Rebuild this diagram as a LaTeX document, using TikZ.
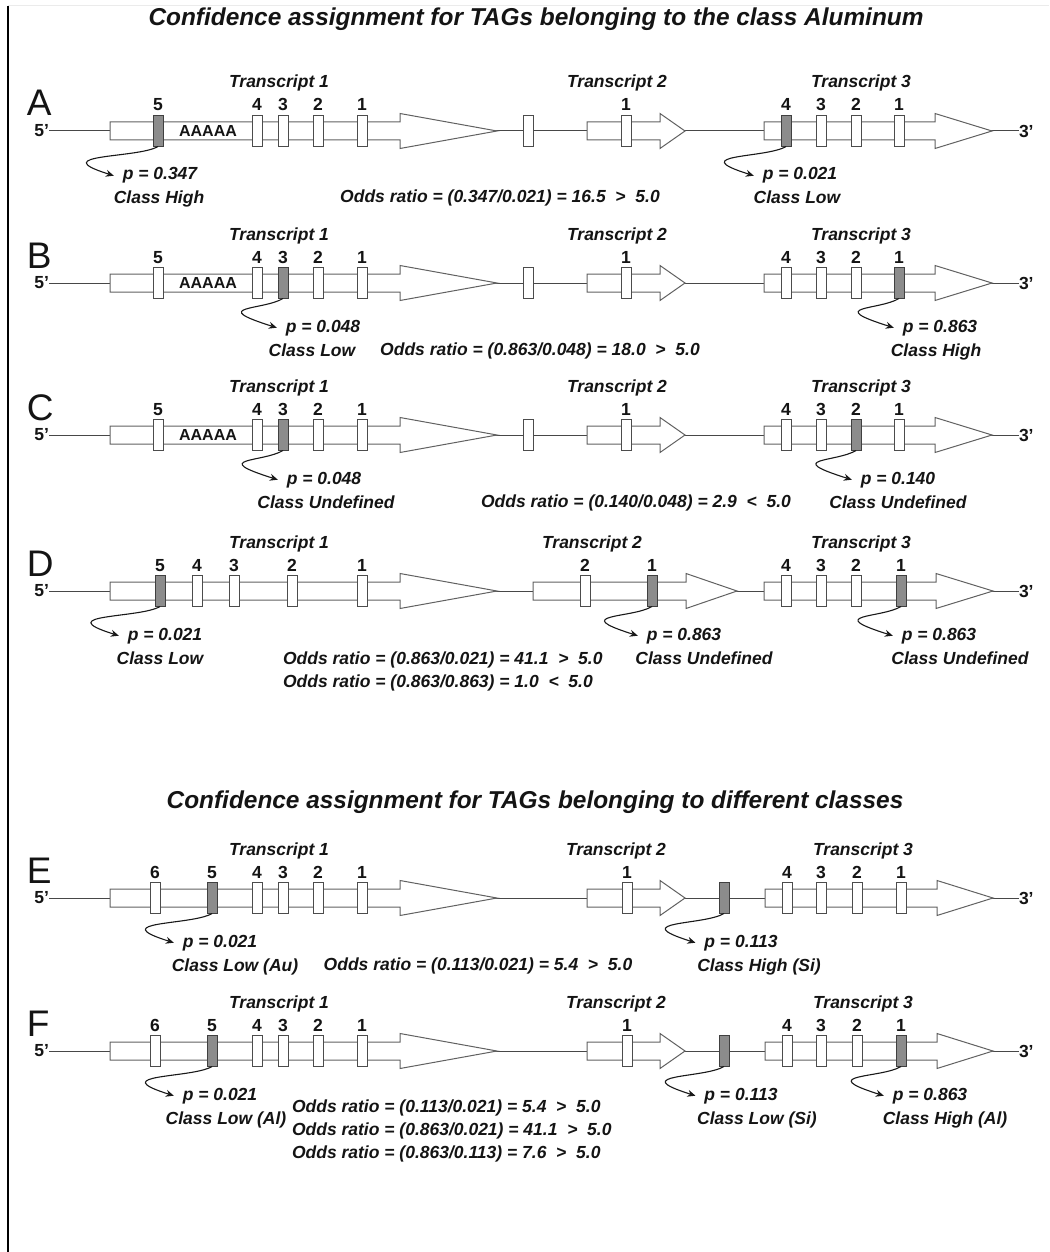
\documentclass[tikz,border=0pt]{standalone}
\usepackage{fontspec}
\setmainfont{Liberation Sans}
\usetikzlibrary{arrows.meta}
\newcommand\txshape[3]{\path[tshape] (#1,9) -- (#2,9) -- (#2,17.5) -- (#3,0) -- (#2,-17.5) -- (#2,-9) -- (#1,-9) -- cycle;}
\newcommand\mkn[4]{\node[#1] (#2) at (#3,0) {}; \node[num] (#2n) at (#3,20) {#4};}
\newcommand\rowframe[1]{%
  \node[rowlet] (#1let) at (27,15) {#1};
  \node[endlab, anchor=east] (#1five) at (49,0) {5’};
  \node[endlab, anchor=west] (#1three) at (1019,0) {3’};
  \draw[baseln] (#1five.east) -- (#1three.west);
}
\begin{document}
\begin{tikzpicture}[x=1pt,y=1pt,
  every node/.style={inner sep=0pt, outer sep=0pt, text=black!92},
  lab/.style={font=\fontsize{17.5}{21}\selectfont\bfseries\itshape, anchor=base},
  labl/.style={lab, anchor=base west},
  num/.style={font=\fontsize{17.5}{21}\selectfont\bfseries, anchor=base},
  polyA/.style={font=\fontsize{16}{19}\selectfont\bfseries},
  ttl/.style={font=\fontsize{24.4}{29}\selectfont\bfseries\itshape, anchor=base},
  rowlet/.style={font=\fontsize{37}{40}\selectfont, anchor=base west},
  endlab/.style={font=\fontsize{17.5}{21}\selectfont\bfseries},
  tshape/.style={draw=black!62, fill=white, line width=1pt, line join=miter},
  baseln/.style={draw=black!72, line width=1pt},
  mk/.style={draw=black!70, fill=white, line width=1pt, minimum width=10pt, minimum height=31pt},
  mkg/.style={mk, fill=black!45, draw=black!75},
  tagarr/.style={draw=black!90, line width=1.1pt, -{Stealth[length=8pt,width=7pt]}},
  hook/.style={tagarr},
]
\useasboundingbox (0,0) rectangle (1049,-1252);
\fill[white] (0,0) rectangle (1049,-1252);
\draw[black!8, line width=1pt] (8,-6) -- (1049,-6);
\draw[black, line width=2pt] (8,-6) -- (8,-1252);

\node[ttl] (title1) at (536,-26) {Confidence assignment for TAGs belonging to the class Aluminum};
\node[ttl] (title2) at (535,-808) {Confidence assignment for TAGs belonging to different classes};

% ---------------- Row A
\begin{scope}[yshift=-131pt]
\rowframe{A}
\txshape{110}{400}{497}
\txshape{587}{660}{685}
\txshape{764}{935}{992}
\mkn{mkg}{A5}{158}{5} \mkn{mk}{A4}{257}{4} \mkn{mk}{A3}{283}{3} \mkn{mk}{A2}{318}{2} \mkn{mk}{A1}{362}{1}
\node[polyA] (Apoly) at (208,0) {AAAAA};
\node[mk] (Ax) at (528,0) {};
\mkn{mk}{A21}{626}{1}
\mkn{mkg}{A34}{786}{4} \mkn{mk}{A33}{821}{3} \mkn{mk}{A32}{856}{2} \mkn{mk}{A31}{899}{1}
\node[lab] (AT1) at (279,43) {Transcript 1};
\node[lab] (AT2) at (617,43) {Transcript 2};
\node[lab] (AT3) at (861,43) {Transcript 3};
\node[lab] (Ap1) at (160,-49) {p = 0.347};
\node[lab] (Ac1) at (159,-73) {Class High};
\node[lab] (Ap3) at (800,-49) {p = 0.021};
\node[lab] (Ac3) at (797,-73) {Class Low};
\node[lab] (Aodds) at (500,-72) {Odds ratio = (0.347/0.021) = 16.5\ \ >\ \ 5.0};
\draw[hook] (A5.south) .. controls +(-20,-12) and +(-70,22) .. ([xshift=-9pt]Ap1.west);
\draw[hook] (A34.south) .. controls +(-20,-12) and +(-70,22) .. ([xshift=-9pt]Ap3.west);
\end{scope}

% ---------------- Row B
\begin{scope}[yshift=-283pt]
\rowframe{B}
\txshape{110}{400}{497}
\txshape{587}{660}{685}
\txshape{764}{935}{992}
\mkn{mk}{B5}{158}{5} \mkn{mk}{B4}{257}{4} \mkn{mkg}{B3}{283}{3} \mkn{mk}{B2}{318}{2} \mkn{mk}{B1}{362}{1}
\node[polyA] (Bpoly) at (208,0) {AAAAA};
\node[mk] (Bx) at (528,0) {};
\mkn{mk}{B21}{626}{1}
\mkn{mk}{B34}{786}{4} \mkn{mk}{B33}{821}{3} \mkn{mk}{B32}{856}{2} \mkn{mkg}{B31}{899}{1}
\node[lab] (BT1) at (279,43) {Transcript 1};
\node[lab] (BT2) at (617,43) {Transcript 2};
\node[lab] (BT3) at (861,43) {Transcript 3};
\node[lab] (Bp1) at (323,-49) {p = 0.048};
\node[lab] (Bc1) at (312,-73) {Class Low};
\node[lab] (Bp3) at (940,-49) {p = 0.863};
\node[lab] (Bc3) at (936,-73) {Class High};
\node[lab] (Bodds) at (540,-72) {Odds ratio = (0.863/0.048) = 18.0\ \ >\ \ 5.0};
\draw[hook] (B3.south) .. controls +(-20,-12) and +(-70,22) .. ([xshift=-9pt]Bp1.west);
\draw[hook] (B31.south) .. controls +(-20,-12) and +(-70,22) .. ([xshift=-9pt]Bp3.west);
\end{scope}

% ---------------- Row C
\begin{scope}[yshift=-435pt]
\rowframe{C}
\txshape{110}{400}{497}
\txshape{587}{660}{685}
\txshape{764}{935}{992}
\mkn{mk}{C5}{158}{5} \mkn{mk}{C4}{257}{4} \mkn{mkg}{C3}{283}{3} \mkn{mk}{C2}{318}{2} \mkn{mk}{C1}{362}{1}
\node[polyA] (Cpoly) at (208,0) {AAAAA};
\node[mk] (Cx) at (528,0) {};
\mkn{mk}{C21}{626}{1}
\mkn{mk}{C34}{786}{4} \mkn{mk}{C33}{821}{3} \mkn{mkg}{C32}{856}{2} \mkn{mk}{C31}{899}{1}
\node[lab] (CT1) at (279,43) {Transcript 1};
\node[lab] (CT2) at (617,43) {Transcript 2};
\node[lab] (CT3) at (861,43) {Transcript 3};
\node[lab] (Cp1) at (324,-49) {p = 0.048};
\node[lab] (Cc1) at (326,-73) {Class Undefined};
\node[lab] (Cp3) at (898,-49) {p = 0.140};
\node[lab] (Cc3) at (898,-73) {Class Undefined};
\node[lab] (Codds) at (636,-72) {Odds ratio = (0.140/0.048) = 2.9\ \ <\ \ 5.0};
\draw[hook] (C3.south) .. controls +(-20,-12) and +(-70,22) .. ([xshift=-9pt]Cp1.west);
\draw[hook] (C32.south) .. controls +(-20,-12) and +(-70,22) .. ([xshift=-9pt]Cp3.west);
\end{scope}

% ---------------- Row D
\begin{scope}[yshift=-591pt]
\rowframe{D}
\txshape{110}{400}{497}
\txshape{533}{686}{737}
\txshape{764}{936}{993}
\mkn{mkg}{D5}{160}{5} \mkn{mk}{D4}{197}{4} \mkn{mk}{D3}{234}{3} \mkn{mk}{D2}{292}{2} \mkn{mk}{D1}{362}{1}
\mkn{mk}{D22}{585}{2} \mkn{mkg}{D21}{652}{1}
\mkn{mk}{D34}{786}{4} \mkn{mk}{D33}{821}{3} \mkn{mk}{D32}{856}{2} \mkn{mkg}{D31}{901}{1}
\node[lab] (DT1) at (279,43) {Transcript 1};
\node[lab] (DT2) at (592,43) {Transcript 2};
\node[lab] (DT3) at (861,43) {Transcript 3};
\node[lab] (Dp1) at (165,-49) {p = 0.021};
\node[lab] (Dc1) at (160,-73) {Class Low};
\node[lab] (Dp2) at (684,-49) {p = 0.863};
\node[lab] (Dc2) at (704,-73) {Class Undefined};
\node[lab] (Dp3) at (939,-49) {p = 0.863};
\node[lab] (Dc3) at (960,-73) {Class Undefined};
\node[labl] (Dodds1) at (283,-73) {Odds ratio = (0.863/0.021) = 41.1\ \ >\ \ 5.0};
\node[labl] (Dodds2) at (283,-96) {Odds ratio = (0.863/0.863) = 1.0\ \ <\ \ 5.0};
\draw[hook] (D5.south) .. controls +(-20,-12) and +(-70,22) .. ([xshift=-9pt]Dp1.west);
\draw[hook] (D21.south) .. controls +(-20,-12) and +(-70,22) .. ([xshift=-9pt]Dp2.west);
\draw[hook] (D31.south) .. controls +(-20,-12) and +(-70,22) .. ([xshift=-9pt]Dp3.west);
\end{scope}

% ---------------- Row E
\begin{scope}[yshift=-898pt]
\rowframe{E}
\txshape{110}{400}{497}
\txshape{587}{660}{685}
\txshape{765}{937}{993}
\mkn{mk}{E6}{155}{6} \mkn{mkg}{E5}{212}{5} \mkn{mk}{E4}{257}{4} \mkn{mk}{E3}{283}{3} \mkn{mk}{E2}{318}{2} \mkn{mk}{E1}{362}{1}
\mkn{mk}{E21}{627}{1}
\node[mkg] (Ex) at (724,0) {};
\mkn{mk}{E34}{787}{4} \mkn{mk}{E33}{821}{3} \mkn{mk}{E32}{857}{2} \mkn{mk}{E31}{901}{1}
\node[lab] (ET1) at (279,43) {Transcript 1};
\node[lab] (ET2) at (616,43) {Transcript 2};
\node[lab] (ET3) at (863,43) {Transcript 3};
\node[lab] (Ep1) at (220,-49) {p = 0.021};
\node[lab] (Ec1) at (235,-73) {Class Low (Au)};
\node[lab] (Ep2) at (741,-49) {p = 0.113};
\node[lab] (Ec2) at (759,-73) {Class High (Si)};
\node[lab] (Eodds) at (478,-72) {Odds ratio = (0.113/0.021) = 5.4\ \ >\ \ 5.0};
\draw[hook] (E5.south) .. controls +(-20,-12) and +(-70,22) .. ([xshift=-9pt]Ep1.west);
\draw[hook] (Ex.south) .. controls +(-20,-12) and +(-70,22) .. ([xshift=-9pt]Ep2.west);
\end{scope}

% ---------------- Row F
\begin{scope}[yshift=-1051pt]
\rowframe{F}
\txshape{110}{400}{497}
\txshape{587}{660}{685}
\txshape{765}{937}{993}
\mkn{mk}{F6}{155}{6} \mkn{mkg}{F5}{212}{5} \mkn{mk}{F4}{257}{4} \mkn{mk}{F3}{283}{3} \mkn{mk}{F2}{318}{2} \mkn{mk}{F1}{362}{1}
\mkn{mk}{F21}{627}{1}
\node[mkg] (Fx) at (724,0) {};
\mkn{mk}{F34}{787}{4} \mkn{mk}{F33}{821}{3} \mkn{mk}{F32}{857}{2} \mkn{mkg}{F31}{901}{1}
\node[lab] (FT1) at (279,43) {Transcript 1};
\node[lab] (FT2) at (616,43) {Transcript 2};
\node[lab] (FT3) at (863,43) {Transcript 3};
\node[lab] (Fp1) at (220,-49) {p = 0.021};
\node[lab] (Fc1) at (226,-73) {Class Low (Al)};
\node[lab] (Fp2) at (741,-49) {p = 0.113};
\node[lab] (Fc2) at (757,-73) {Class Low (Si)};
\node[lab] (Fp3) at (930,-49) {p = 0.863};
\node[lab] (Fc3) at (945,-73) {Class High (Al)};
\node[labl] (Fodds1) at (292,-61) {Odds ratio = (0.113/0.021) = 5.4\ \ >\ \ 5.0};
\node[labl] (Fodds2) at (292,-84) {Odds ratio = (0.863/0.021) = 41.1\ \ >\ \ 5.0};
\node[labl] (Fodds3) at (292,-107) {Odds ratio = (0.863/0.113) = 7.6\ \ >\ \ 5.0};
\draw[hook] (F5.south) .. controls +(-20,-12) and +(-70,22) .. ([xshift=-9pt]Fp1.west);
\draw[hook] (Fx.south) .. controls +(-20,-12) and +(-70,22) .. ([xshift=-9pt]Fp2.west);
\draw[hook] (F31.south) .. controls +(-20,-12) and +(-70,22) .. ([xshift=-9pt]Fp3.west);
\end{scope}
\end{tikzpicture}
\end{document}
